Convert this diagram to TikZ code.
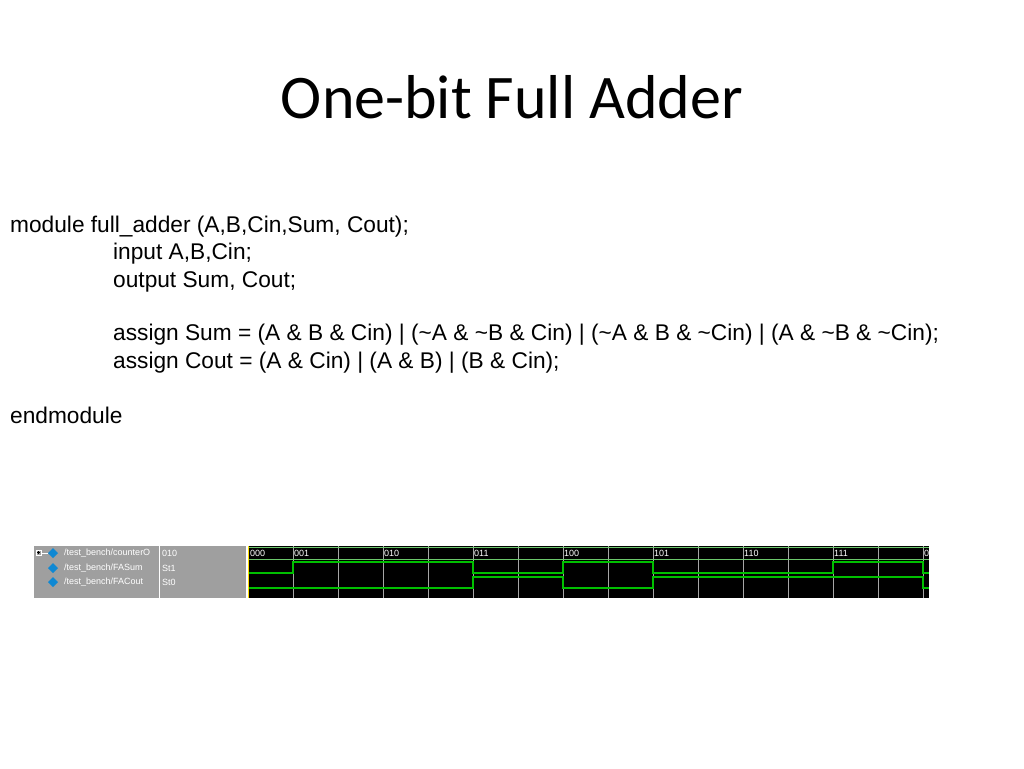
\documentclass[tikz,border=0pt]{standalone}
\usepackage{fontspec}
\setmainfont{Liberation Sans}
\newfontfamily\titlefont{Carlito}
\begin{document}
\begin{tikzpicture}[x=1pt,y=-1pt,
  code/.style={anchor=base west,inner sep=0pt,font=\fontsize{22.7}{24}\selectfont},
  small/.style={anchor=west,inner sep=0pt,text=white,font=\fontsize{9}{10}\selectfont},
  grid/.style={draw=gray!70,line width=0.6pt},
  sig/.style={draw=green!75!black,line width=1.3pt},
  bus/.style={draw=green!45!gray!80!white,line width=0.8pt}]
\useasboundingbox[fill=white] (0,0) rectangle (1024,768);
\node[font=\titlefont\fontsize{62}{66}\selectfont,inner sep=0pt] (title) at (512,97) {One-bit Full Adder};
\node[code] (l1) at (10,232) {module full\_adder (A,B,Cin,Sum, Cout);};
\node[code] (l2) at (113,259) {input A,B,Cin;};
\node[code] (l3) at (113,287) {output Sum, Cout;};
\node[code] (l4) at (113,340) {assign Sum = (A \& B \& Cin) | ({\char`~}A \& {\char`~}B \& Cin) | ({\char`~}A \& B \& {\char`~}Cin) | (A \& {\char`~}B \& {\char`~}Cin);};
\node[code] (l5) at (113,368) {assign Cout = (A \& Cin) | (A \& B) | (B \& Cin);};
\node[code] (l6) at (10,423) {endmodule};
% panel
\fill[gray!75] (34,546) rectangle (246,598);
\draw[white,line width=1pt] (159.5,546) -- (159.5,598);
\fill[black] (248,546) rectangle (929,598);
\foreach \x in {293,338,...,923} \draw[grid] (\x,546) -- (\x,598);
\draw[yellow!80!orange,line width=1pt] (248.5,546) -- (248.5,598);
\draw[white,line width=0.6pt] (36,550) rectangle (41,555);
\draw[black,line width=0.5pt] (37,552.5) -- (40,552.5) (38.5,551) -- (38.5,554);
\draw[white,line width=0.6pt] (41,553) -- (48,553);
\foreach \y/\n in {553/a,568/b,582/c}{
  \fill[cyan!70!blue] (53,\y-5) -- (58,\y) -- (53,\y+5) -- (48,\y) -- cycle;}
\node[small] (n1) at (64,553) {/test\_bench/counterO};
\node[small] (n2) at (64,568) {/test\_bench/FASum};
\node[small] (n3) at (64,582) {/test\_bench/FACout};
\node[small] (v1) at (162,553) {010};
\node[small] (v2) at (162,568) {St1};
\node[small] (v3) at (162,582) {St0};
% bus
\draw[bus] (249,547) -- (929,547) (249,559) -- (929,559);
\foreach \x/\t in {250/000,294/001,384/010,474/011,564/100,654/101,744/110,834/111,924/0}
  \node[small,anchor=west] at (\x,553) {\t};
% Sum
\draw[sig] (249,573) -- (293,573) -- (293,562) -- (473,562) -- (473,573) -- (563,573) -- (563,562) -- (653,562) -- (653,573) -- (833,573) -- (833,562) -- (923,562) -- (923,573) -- (929,573);
% Cout
\draw[sig] (249,588) -- (473,588) -- (473,577) -- (563,577) -- (563,588) -- (653,588) -- (653,577) -- (923,577) -- (923,588) -- (929,588);
\end{tikzpicture}
\end{document}
